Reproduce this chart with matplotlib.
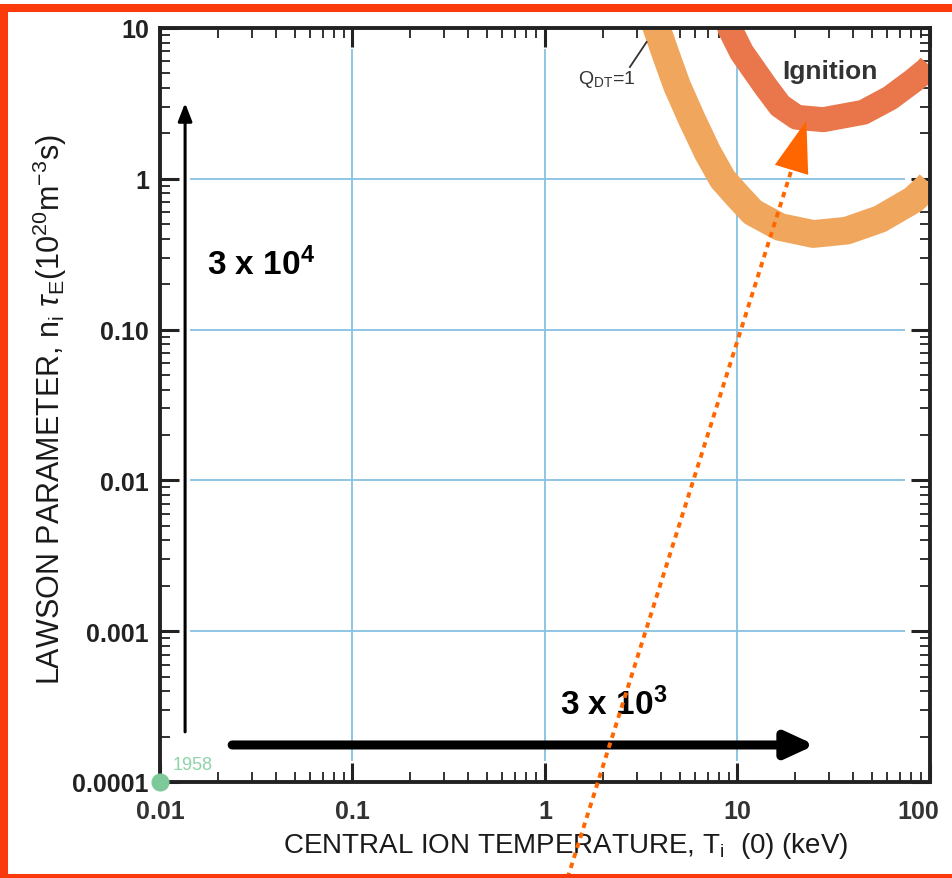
import numpy as np
import matplotlib
matplotlib.use('Agg')
import matplotlib.pyplot as plt
import matplotlib.ticker as ticker
from matplotlib.patches import Rectangle
from matplotlib.transforms import ScaledTranslation

plt.rcParams['font.family'] = ['Liberation Sans', 'DejaVu Sans']
plt.rcParams['mathtext.fontset'] = 'custom'
plt.rcParams['mathtext.rm'] = 'Liberation Sans'
plt.rcParams['mathtext.it'] = 'Liberation Sans:italic'
plt.rcParams['mathtext.bf'] = 'Liberation Sans:bold'

# Q_DT = 1 band (temperature keV, Lawson parameter 1e20 m^-3 s)
q1_temp = [3.62, 3.818, 4.201, 4.85, 5.784, 6.987, 8.357, 10.0, 12.0, 16.63, 24.76,
           36.93, 55.0, 81.9, 96.1, 100]
q1_lawson = [12.0, 9.85, 6.90, 4.144, 2.493, 1.499, 0.997, 0.77, 0.60, 0.479, 0.4305,
             0.453, 0.541, 0.727, 0.878, 0.93]

# ignition band
ign_temp = [8.8, 9.141, 10.51, 13.9, 16.63, 20.3, 27.91, 45.04, 61.97, 81.9, 96.1, 100]
ign_lawson = [12.0, 9.85, 6.90, 4.144, 3.053, 2.558, 2.466, 2.761, 3.435, 4.472, 5.288, 5.6]

x_ticks = [0.01, 0.1, 1, 10, 100]
x_labels = ['0.01', '0.1', '1', '10', '100']
y_ticks = [1e-4, 1e-3, 1e-2, 1e-1, 1, 10]
y_labels = ['0.0001', '0.001', '0.01', '0.10', '1', '10']

grid_x = [0.1, 1, 10]
grid_y = [1e-3, 1e-2, 1e-1, 1]

# 1958 starting point
start_temp, start_lawson = 0.01, 1e-4

# progress arrows
vert_arrow = ((0.0135, 2.15e-4), (0.0135, 3.18))
horz_arrow = ((0.0237, 1.76e-4), (25.3, 1.76e-4))
trend_start = (1.31, 2.31e-5)
trend_base = (19.1, 1.15)
trend_tip = (22.8, 2.43)

fig = plt.figure(figsize=(9.53, 8.79), dpi=100)
ax = fig.add_axes([160/953, 1 - 783/879, 770/953, 754/879])
ax.set_xscale('log')
ax.set_yscale('log')
ax.set_xlim(0.01, 100)
ax.set_ylim(1e-4, 10)

gc = '#86C1E3'
ax.hlines(grid_y, 0.0143, 74, colors=gc, lw=1.3, zorder=1)
ax.vlines(grid_x, 1.38e-4, 7.26, colors=gc, lw=1.3, zorder=1)

ax.plot(q1_temp, q1_lawson, color='#F0A65C', lw=20, solid_capstyle='butt',
        solid_joinstyle='round', zorder=2)
ax.plot(ign_temp, ign_lawson, color='#EA774C', lw=18, solid_capstyle='butt',
        solid_joinstyle='round', zorder=2)

ax.text(17.0, 5.19, 'Ignition', fontsize=19, fontweight='bold', color='#333333', va='center')
ax.text(1.48, 4.66, r'Q$_{\rm DT}$=1', fontsize=14, color='#333333', va='center')
ax.plot([2.76, 3.37], [5.51, 8.07], color='#333333', lw=1.3, zorder=3)

# dotted trend line with arrowhead
ax.plot([trend_start[0], trend_base[0]], [trend_start[1], trend_base[1]],
        color='#FF6600', lw=2.8, linestyle=(0, (1.4, 1.3)), clip_on=False, zorder=4)
ax.annotate('', xy=trend_tip, xytext=trend_base,
            arrowprops=dict(arrowstyle='-|>,head_length=3.7,head_width=1.25',
                            mutation_scale=10, color='#FF6600', lw=0,
                            shrinkA=0, shrinkB=0), zorder=5)

ax.annotate('', xy=vert_arrow[1], xytext=vert_arrow[0],
            arrowprops=dict(arrowstyle='-|>,head_length=0.9,head_width=0.35',
                            mutation_scale=12, color='black', lw=2.2,
                            shrinkA=0, shrinkB=0))
ax.annotate('', xy=horz_arrow[1], xytext=horz_arrow[0],
            arrowprops=dict(arrowstyle='-|>,head_length=1.3,head_width=0.6',
                            mutation_scale=13, color='black', lw=6.5,
                            shrinkA=0, shrinkB=0))

ax.text(0.01755, 0.272, r'3 x 10$^{\mathbf{4}}$', fontsize=24, fontweight='bold', va='center')
ax.text(1.197, 3.29e-4, r'3 x 10$^{\mathbf{3}}$', fontsize=24, fontweight='bold', va='center')

ax.plot([start_temp], [start_lawson], 'o', color='#7DC99A', ms=12, clip_on=False, zorder=6)
ax.text(0.0116, 1.3e-4, '1958', fontsize=13, color='#8FD3A8', va='center')

ax.set_xticks(x_ticks)
ax.set_xticklabels(x_labels, fontsize=18, fontweight='bold')
ax.set_yticks(y_ticks)
ax.set_yticklabels(y_labels, fontweight='bold', fontsize=18)
ax.xaxis.set_minor_locator(ticker.LogLocator(base=10, subs=np.arange(2, 10), numticks=20))
ax.yaxis.set_minor_locator(ticker.LogLocator(base=10, subs=np.arange(2, 10), numticks=20))
ax.xaxis.set_minor_formatter(ticker.NullFormatter())
ax.yaxis.set_minor_formatter(ticker.NullFormatter())
ax.tick_params(which='both', direction='in', top=True, right=True, color='#222222')
ax.tick_params(which='major', length=14, width=2.2)
ax.tick_params(which='minor', length=7, width=1.3)
ax.tick_params(axis='x', pad=12, labelcolor='#333333')
ax.tick_params(axis='y', pad=8, labelcolor='#222222')
for s in ax.spines.values():
    s.set_linewidth(2.8)
    s.set_color('#222222')

# last x label sits a little left of its tick, as in the original
last = ax.get_xticklabels()[-1]
last.set_transform(last.get_transform() + ScaledTranslation(-12/100, 0, fig.dpi_scale_trans))

ax.set_xlabel(r'CENTRAL ION TEMPERATURE, T$_{\rm i}$  (0) (keV)', fontsize=20, color='#1a1a1a')
ax.xaxis.set_label_coords(0.527, -0.063)
ax.set_ylabel(r'LAWSON PARAMETER, n$_{\rm i}$ $\tau_{\rm E}$(10$^{20}$m$^{-3}$s)', fontsize=22,
              color='#1a1a1a')
ax.yaxis.set_label_coords(-0.118, 0.495)

fig.patches.append(Rectangle((4/953, 0), 2.0, (879 - 9)/879, transform=fig.transFigure,
                             fill=False, edgecolor='#FA3A0A', lw=5.8, clip_on=False))

fig.savefig('out.png', dpi=100)
